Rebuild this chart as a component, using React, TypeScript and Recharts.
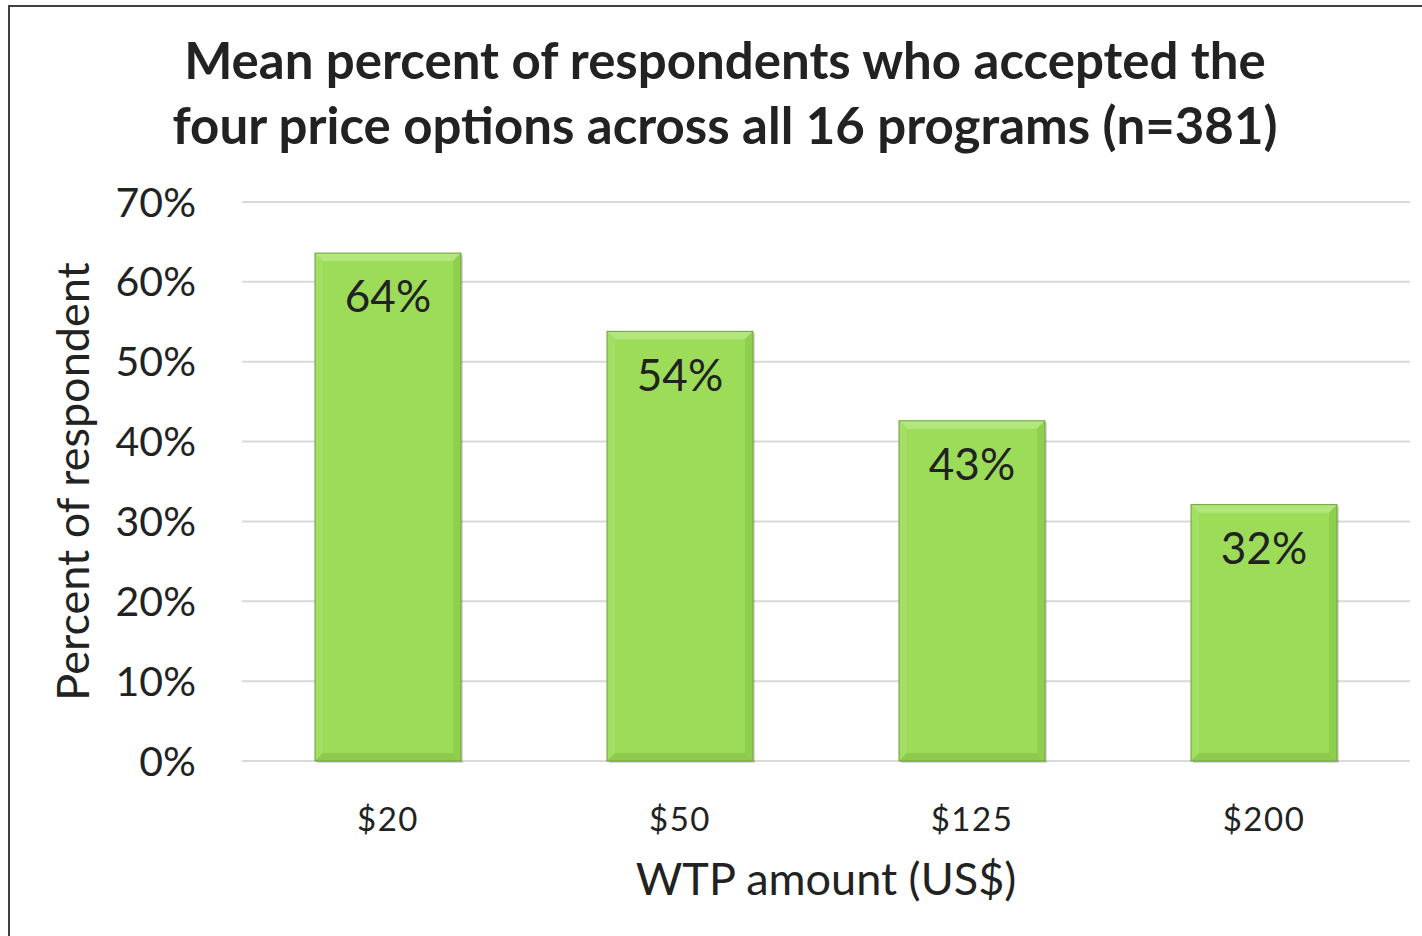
import { Bar, BarChart, CartesianGrid, LabelList, XAxis, YAxis } from "recharts";

const priceOptions = ["$20", "$50", "$125", "$200"];
const acceptedPercent = [63.6, 53.8, 42.6, 32.1];
const yTicks = [0, 10, 20, 30, 40, 50, 60, 70];

const titleLines = [
  "Mean percent of respondents who accepted the",
  "four price options across all 16 programs (n=381)",
];

const chartData = priceOptions.map((price, i) => ({
  price,
  accepted: acceptedPercent[i],
}));

const font = "Lato, 'Open Sans', sans-serif";
const textColor = "#222222";

// bevelled green bar, roughly like the Office "bevel" effect
function BevelBar(props: any) {
  const { x, y, width: w, height: h } = props;
  if (!h || h <= 0) return null;
  const b = 8;
  return (
    <g>
      <rect x={x + 2} y={y + 2} width={w} height={h} fill="rgba(0,0,0,0.15)" />
      <rect x={x} y={y} width={w} height={h} fill="#9ddc59" />
      <polygon points={`${x},${y} ${x + w},${y} ${x + w - b},${y + b} ${x + b},${y + b}`} fill="#b3e67d" />
      <polygon points={`${x},${y} ${x + b},${y + b} ${x + b},${y + h - b} ${x},${y + h}`} fill="#a3df65" />
      <polygon points={`${x + w},${y} ${x + w},${y + h} ${x + w - b},${y + h - b} ${x + w - b},${y + b}`} fill="#8fcf4e" />
      <polygon points={`${x},${y + h} ${x + w},${y + h} ${x + w - b},${y + h - b} ${x + b},${y + h - b}`} fill="#8ccb4b" />
      <rect x={x} y={y} width={w} height={h} fill="none" stroke="#6e9f3c" strokeWidth={1} />
    </g>
  );
}

export default function App() {
  return (
    <div
      style={{
        position: "absolute",
        left: 0,
        top: 0,
        width: 1422,
        height: 936,
        overflow: "hidden",
        background: "#ffffff",
        fontFamily: font,
      }}
    >
      <div
        style={{
          position: "absolute",
          left: 8,
          top: 5,
          width: 1434,
          height: 960,
          border: "2px solid #404040",
          boxSizing: "border-box",
        }}
      />
      <div
        style={{
          position: "absolute",
          left: 8,
          top: 27,
          width: 1434,
          textAlign: "center",
          fontWeight: 700,
          fontSize: 51,
          lineHeight: "65px",
          color: textColor,
        }}
      >
        {titleLines.map((line) => (
          <div key={line}>{line}</div>
        ))}
      </div>
      <div style={{ position: "absolute", left: 0, top: 0 }}>
        <BarChart
          width={1422}
          height={936}
          data={chartData}
          margin={{ top: 202, right: 12, left: 42, bottom: 0 }}
          barCategoryGap="25%"
        >
          <CartesianGrid vertical={false} stroke="#d9d9d9" strokeWidth={2} />
          <XAxis
            dataKey="price"
            height={175}
            axisLine={false}
            tickLine={false}
            tickSize={0}
            tickMargin={47}
            tick={{ fontSize: 33, fill: textColor, fontFamily: font, letterSpacing: 1.5 }}
            label={{
              value: "WTP amount (US$)",
              position: "insideBottom",
              offset: 41,
              style: { fontSize: 45, fill: textColor, fontFamily: font },
            }}
          />
          <YAxis
            width={200}
            domain={[0, 70]}
            ticks={yTicks}
            interval={0}
            axisLine={false}
            tickLine={false}
            tickSize={0}
            tickMargin={46}
            tickFormatter={(v: number) => `${v}%`}
            tick={{ fontSize: 41, fill: textColor, fontFamily: font }}
            label={{
              value: "Percent of respondent",
              angle: -90,
              position: "insideLeft",
              offset: 31,
              style: { fontSize: 45, fill: textColor, fontFamily: font, textAnchor: "middle" },
            }}
          />
          <Bar dataKey="accepted" shape={<BevelBar />} isAnimationActive={false}>
            <LabelList
              dataKey="accepted"
              position="insideTop"
              offset={28}
              formatter={(v: number) => `${Math.round(v)}%`}
              style={{ fontSize: 44, fill: textColor, fontFamily: font }}
            />
          </Bar>
        </BarChart>
      </div>
    </div>
  );
}
